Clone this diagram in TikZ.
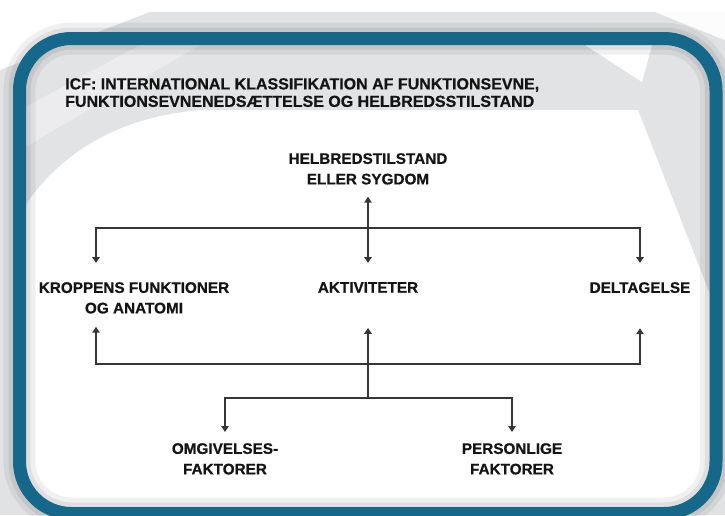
\documentclass[tikz,border=0pt]{standalone}
\usepackage{fontspec}
\setmainfont{Liberation Sans}[BoldFeatures={FakeBold=0.6}]
\usetikzlibrary{arrows.meta}
\definecolor{bordblue}{HTML}{16688A}
\definecolor{innergrey}{HTML}{E2E3E5}
\definecolor{outgrey}{HTML}{E1E2E4}
\definecolor{txt}{HTML}{141414}
\definecolor{linec}{HTML}{363636}
\tikzset{
  lbl/.style={font=\fontsize{15.3}{20.5}\selectfont\bfseries, text=txt, inner sep=0pt, align=center},
  ttl/.style={font=\fontsize{16}{17.5}\selectfont\bfseries, text=txt, inner sep=0pt, align=left},
  conn/.style={draw=linec, line width=1.5pt},
  tip/.tip={Triangle[width=7.5pt,length=6pt]}
}
\begin{document}
\begin{tikzpicture}[x=1pt,y=1pt]
\useasboundingbox (0,0) rectangle (725,-515);
\begin{scope}
\clip (0,0) rectangle (725,-515);
\fill[white] (0,0) rectangle (725,-515);
% backdrop behind the frame
\fill[outgrey] (150,-12) -- (725,-12) -- (725,-515) -- (0,-515) -- (0,-70) -- cycle;
\fill[white!90!outgrey] (655,-12) -- (725,-12) -- (725,-40) -- cycle;
% inside of the frame
\fill[innergrey, rounded corners=52] (19.5,-38.5) rectangle (716,-513.5);
\begin{scope}
\clip[rounded corners=52] (19.5,-38.5) rectangle (716,-513.5);
\fill[white, opacity=.35] (20,-150) -- (20,-110) -- (140,-45) -- (200,-45) -- cycle;
\fill[white] (15,-222) .. controls (50,-160) and (110,-118) .. (200,-110)
  -- (638,-110) -- (720,-320) -- (720,-520) -- (15,-520) -- cycle;
\fill[white] (585,-45) -- (652,-45) -- (642,-82) -- cycle;
\end{scope}
% shadow and frame
\draw[black, opacity=.06, line width=32pt, rounded corners=52] (19.5,-38.5) rectangle (716,-513.5);
\draw[black, opacity=.07, line width=22pt, rounded corners=52] (19.5,-38.5) rectangle (716,-513.5);
\draw[bordblue, line width=13pt, rounded corners=52] (19.5,-38.5) rectangle (716,-513.5);
\end{scope}

% title
\node[ttl, anchor=north west] (title) at (65,-78) {ICF: INTERNATIONAL KLASSIFIKATION AF FUNKTIONSEVNE,\\FUNKTIONSEVNENEDSÆTTELSE OG HELBREDSSTILSTAND};

% labels
\node[lbl, anchor=north] (hs) at (368,-153) {HELBREDSTILSTAND\\ELLER SYGDOM};
\node[lbl, anchor=north] (kf) at (134,-282) {KROPPENS FUNKTIONER\\OG ANATOMI};
\node[lbl, anchor=north] (ak) at (368,-282) {AKTIVITETER};
\node[lbl, anchor=north] (dt) at (640,-282) {DELTAGELSE};
\node[lbl, anchor=north] (om) at (225,-443) {OMGIVELSES-\\FAKTORER};
\node[lbl, anchor=north] (pf) at (512,-443) {PERSONLIGE\\FAKTORER};

% junction points
\coordinate (cl) at (96,-228);
\coordinate (cr) at (640,-228);
\coordinate (bl) at (96,-364);
\coordinate (bm) at (368,-364);
\coordinate (br) at (640,-364);
\coordinate (fm) at (368,-398);

% connectors
\draw[conn, tip-tip, shorten <=12pt, shorten >=19pt] (hs.south) -- (ak.north);
\draw[conn, tip-tip, shorten <=19pt, shorten >=19pt] (cl |- kf.north) -- (cl) -- (cr) -- (cr |- dt.north);
\draw[conn, tip-tip, shorten <=13pt, shorten >=35pt] (bl |- kf.south) -- (bl) -- (br) -- (br |- dt.south);
\draw[conn, tip-, shorten <=35pt] (ak.south) -- (fm);
\draw[conn, tip-tip, shorten <=11pt, shorten >=11pt] (om.north) |- (fm) -| (pf.north);
\end{tikzpicture}
\end{document}
